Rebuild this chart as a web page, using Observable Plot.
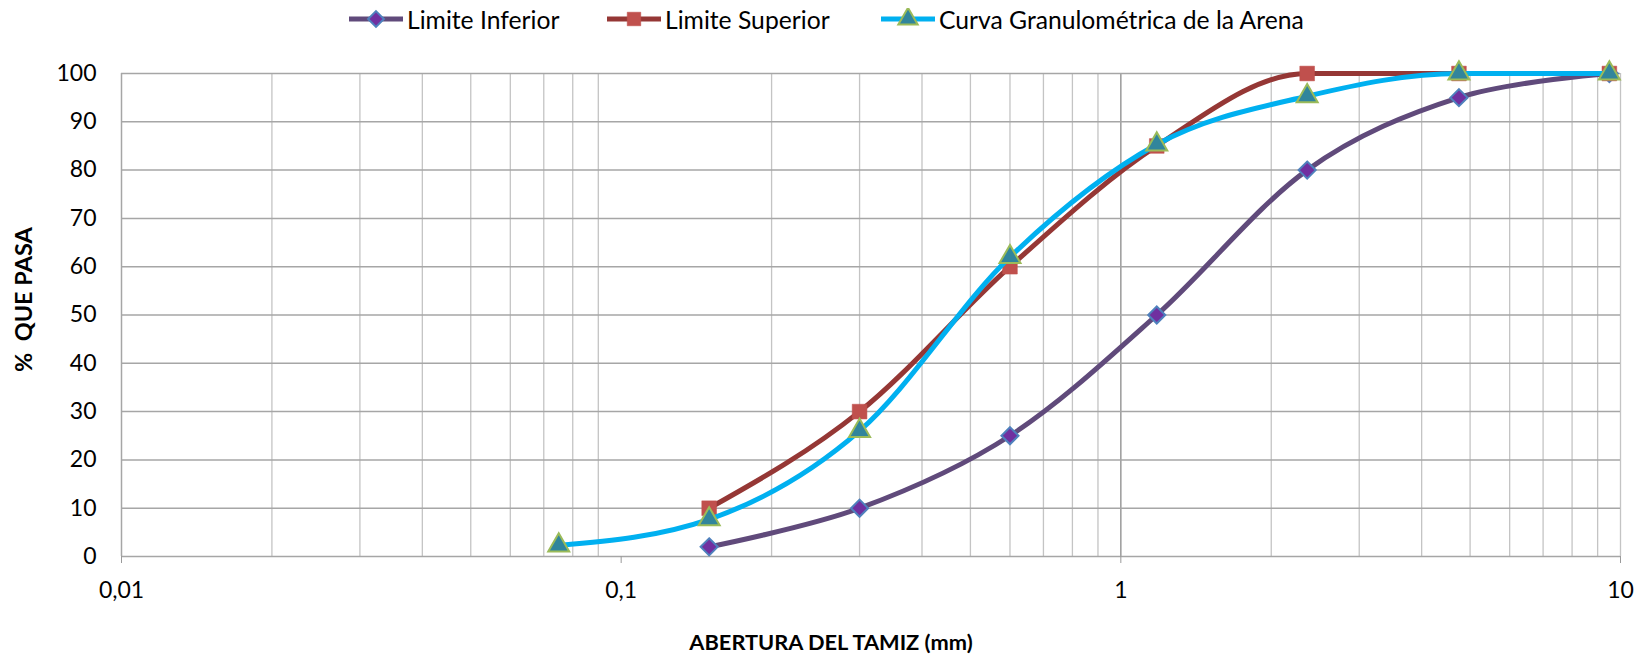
<!DOCTYPE html>
<html>
<head>
<meta charset="utf-8">
<script src="https://cdn.jsdelivr.net/npm/d3@7"></script>
<script src="https://cdn.jsdelivr.net/npm/@observablehq/plot@0.6"></script>
<style>
  html, body { margin: 0; padding: 0; background: #fff; }
  #wrap { position: relative; width: 1642px; height: 654px; font-family: Lato, "Open Sans", sans-serif; }
  #legend { position: relative; width: 1642px; height: 40px; }
  .item { position: absolute; top: -1px; height: 40px; display: flex; align-items: center; font-size: 24.7px; color: #000; white-space: nowrap; }
  .item svg { margin-right: 4px; }
</style>
</head>
<body>
<div id="wrap">
  <div id="legend"></div>
  <div id="chart"></div>
</div>
<script>
// ---- data ----
const sieveSizes = [9.5, 4.75, 2.36, 1.18, 0.6, 0.3, 0.15, 0.075];
const limiteInferior = [100, 95, 80, 50, 25, 10, 2];
const limiteSuperior = [100, 100, 100, 85, 60, 30, 10];
const curvaArena = [100, 100, 95.3, 85.3, 62, 26, 7.7, 2.3];
const seriesNames = ["Limite Inferior", "Limite Superior", "Curva Granulométrica de la Arena"];
const xTicks = [0.01, 0.1, 1, 10];
const xTickLabels = ["0,01", "0,1", "1", "10"];
const xMinorGrid = [0.02, 0.03, 0.04, 0.05, 0.06, 0.07, 0.08, 0.09,
                    0.2, 0.3, 0.4, 0.5, 0.6, 0.7, 0.8, 0.9,
                    2, 3, 4, 5, 6, 7, 8, 9, 10];
const yTicks = [0, 10, 20, 30, 40, 50, 60, 70, 80, 90, 100];
const xTitle = "ABERTURA DEL TAMIZ (mm)";
const yTitle = "%  QUE PASA";

// ---- styles ----
const styles = [
  {line: "#604a7b", curve: "cardinal", symbol: "diamond2", r: 7.7, fill: "#7030a0", stroke: "#4f81bd", sw: 2},
  {line: "#953735", curve: "monotone-x", symbol: "square", r: 8.3, fill: "#c0504d", stroke: "#c0504d", sw: 0.5},
  {line: "#00b0f0", curve: "monotone-x", symbol: "triangle", r: 7.8, fill: "#31859c", stroke: "#9bbb59", sw: 2}
];
const valueLists = [limiteInferior, limiteSuperior, curvaArena];
const tables = valueLists.map((vals, i) =>
  vals.map((v, j) => ({size: sieveSizes[j], pct: v, serie: seriesNames[i]})));

const marks = [
  Plot.ruleX(xMinorGrid, {stroke: "#c4c4c4", strokeWidth: 1.3}),
  Plot.ruleX([1], {stroke: "#9a9a9a", strokeWidth: 1.5}),
  Plot.ruleY(yTicks, {stroke: "#a6a6a6", strokeWidth: 1.5}),
  Plot.ruleX([0.01], {stroke: "#a6a6a6", strokeWidth: 1.5}),
  Plot.axisX(xTicks, {tickFormat: (d) => xTickLabels[xTicks.indexOf(d)], tickSize: 7, tickPadding: 18, stroke: "#9a9a9a", fontSize: 23, label: null}),
  Plot.axisY(yTicks, {tickSize: 0, tickPadding: 25, fontSize: 23, label: null})
];
tables.forEach((t, i) => {
  const s = styles[i];
  marks.push(Plot.line(t, {x: "size", y: "pct", stroke: s.line, strokeWidth: 5, curve: s.curve}));
  marks.push(Plot.dot(t, {x: "size", y: "pct", symbol: s.symbol, r: s.r, fill: s.fill, stroke: s.stroke, strokeWidth: s.sw}));
});
marks.push(Plot.text([xTitle], {text: (d) => d, frameAnchor: "bottom", dx: -40, dy: 93, fontSize: 21.8, fontWeight: "bold"}));
marks.push(Plot.text([yTitle], {text: (d) => d, frameAnchor: "left", dx: -97, dy: 57, rotate: -90, fontSize: 23.5, fontWeight: "bold"}));

const chart = Plot.plot({
  width: 1642,
  height: 614,
  marginLeft: 121,
  marginRight: 22,
  marginTop: 33,
  marginBottom: 98,
  x: {type: "log", domain: [0.01, 10]},
  y: {domain: [0, 100]},
  style: {fontFamily: "Lato, 'Open Sans', sans-serif", fontSize: "23px", color: "#000", background: "#fff", overflow: "visible"},
  marks
});
document.getElementById("chart").appendChild(chart);

// ---- legend ----
const legendX = [349, 607, 881];
const legend = document.getElementById("legend");
seriesNames.forEach((name, i) => {
  const s = styles[i];
  const item = document.createElement("div");
  item.className = "item";
  item.style.left = legendX[i] + "px";
  const sym = d3.symbol().type({diamond2: d3.symbolDiamond2, square: d3.symbolSquare, triangle: d3.symbolTriangle}[s.symbol]).size(Math.PI * s.r * s.r * 0.85)();
  item.innerHTML = `<svg width="54" height="22" viewBox="0 0 54 22"><line x1="0" x2="54" y1="11" y2="11" stroke="${s.line}" stroke-width="5"/><path d="${sym}" transform="translate(27,11)" fill="${s.fill}" stroke="${s.stroke}" stroke-width="${s.sw}"/></svg><span>${name}</span>`;
  legend.appendChild(item);
});
</script>
</body>
</html>
